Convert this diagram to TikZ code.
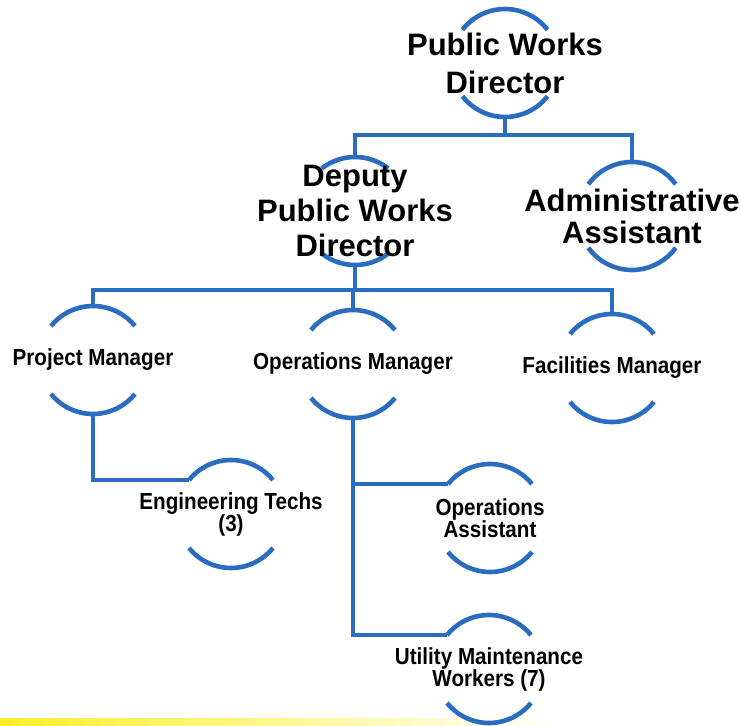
\documentclass[tikz,border=0pt]{standalone}
\usepackage{fontspec}
\setmainfont{Liberation Sans}
\newfontfamily\narrowsans[FakeStretch=0.89]{Liberation Sans}
\usetikzlibrary{calc}

\definecolor{orgblue}{RGB}{42,108,192}
\definecolor{bandyellow}{RGB}{250,238,40}

\tikzset{
  conn/.style={draw=orgblue, line width=4.2pt, line join=miter},
  arcline/.style={draw=orgblue, line width=4.6pt},
  bigtext/.style={font=\fontsize{31}{#1}\selectfont\bfseries, align=center, inner sep=0pt, text=black},
  smalltext/.style={font=\narrowsans\fontsize{23.2}{22}\selectfont\bfseries, align=center, inner sep=0pt, text=black},
}

% One unit of the chart: text between an upper and a lower arc of a circle.
% #1 name, #2 x, #3 y (measured downwards), #4 half-span of each arc in degrees,
% #5 text style, #6 text
\newcommand\orgunit[6]{%
  \coordinate (#1-c) at (#2,-#3);
  \draw[arcline] ($(#1-c)+(90+#4:54pt)$) arc[start angle=90+#4, end angle=90-#4, radius=54pt];
  \draw[arcline] ($(#1-c)+(270-#4:54pt)$) arc[start angle=270-#4, end angle=270+#4, radius=54pt];
  \coordinate (#1-top) at ($(#1-c)+(0,54pt)$);
  \coordinate (#1-bot) at ($(#1-c)+(0,-54pt)$);
  \coordinate (#1-tl) at ($(#1-c)+(90+#4:54pt)$);
  \node[#5] (#1) at (#1-c) {#6};
}

\begin{document}
\begin{tikzpicture}[x=1pt, y=1pt]
  \useasboundingbox (0,0) rectangle (741,-725);
  \fill[white] (0,0) rectangle (741,-725);

  % highlighter band along the bottom edge
  \shade[left color=bandyellow, right color=white] (0,-718) rectangle (560,-725);

  % units
  \orgunit{pwd}{505}{63}{52}{bigtext=38}{Public Works\\Director}
  \orgunit{dep}{355}{211}{38}{bigtext=35}{Deputy\\Public Works\\Director}
  \orgunit{adm}{632}{216}{54}{bigtext=32}{Administrative\\Assistant}
  \orgunit{pm}{93}{360}{51}{smalltext}{Project Manager}
  \orgunit{om}{353}{364}{51}{smalltext}{Operations Manager}
  \orgunit{fm}{612}{368}{51}{smalltext}{Facilities Manager}
  \orgunit{et}{231}{514}{51}{smalltext}{Engineering Techs\\(3)}
  \orgunit{oa}{490}{518}{51}{smalltext}{Operations\\Assistant}
  \orgunit{umw}{489}{669}{51}{smalltext}{Utility Maintenance\\Workers (7)}

  % bus below the director
  \coordinate (bus1) at (505,-135);
  \draw[conn] (pwd-bot) -- (bus1);
  \draw[conn] (dep-top) |- (bus1) -| (adm-top);

  % bus below the deputy director
  \coordinate (bus2) at (355,-290);
  \draw[conn] (dep-bot) -- (bus2);
  \draw[conn] (pm-top) |- (bus2) -| (fm-top);
  \draw[conn] (om-top) -- (om-top |- bus2);

  % lower reports
  \draw[conn] (pm-bot) |- (et-tl);
  \draw[conn] (om-bot) |- (umw-tl);
  \draw[conn] (om-bot |- oa-tl) -- (oa-tl);
\end{tikzpicture}
\end{document}
